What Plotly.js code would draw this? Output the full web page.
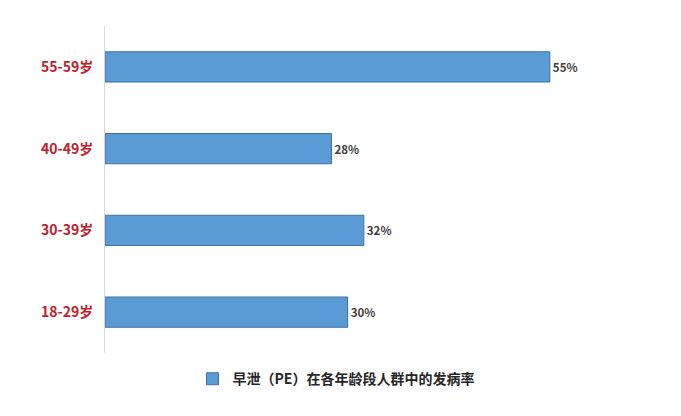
<!DOCTYPE html>
<html><head><meta charset="utf-8">
<script src="https://cdn.plot.ly/plotly-3.0.1.min.js"></script>
<style>html,body{margin:0;padding:0;background:#fff}#c{width:681px;height:416px}</style>
</head><body><div id="c"></div>
<script>
const categories = ["18-29岁", "30-39岁", "40-49岁", "55-59岁"];
const values = [30, 32, 28, 55];
const labels = ["30%", "32%", "28%", "55%"];
const seriesName = "早泄（PE）在各年龄段人群中的发病率";

Plotly.newPlot('c', [{
  type: 'bar', orientation: 'h',
  y: categories, x: values, name: seriesName,
  text: labels, textposition: 'outside', cliponaxis: false,
  textfont: {family: '"Noto Sans CJK SC", "Noto Sans", sans-serif', size: 11.5, color: '#404040', weight: 'bold'},
  marker: {color: '#5B9BD5', line: {color: '#41719C', width: 1}}
}], {
  width: 681, height: 416,
  margin: {l: 105, r: 26, t: 26, b: 63},
  paper_bgcolor: '#fff', plot_bgcolor: '#fff',
  bargap: 0.63,
  showlegend: true,
  legend: {orientation: 'h', x: 0.42, xanchor: 'center', y: -0.08, yanchor: 'middle',
    font: {family: '"Noto Sans CJK SC", sans-serif', size: 14, color: '#262626', weight: 'bold'}},
  xaxis: {range: [0, 68], showgrid: false, zeroline: false, showticklabels: false, showline: false, fixedrange: true},
  yaxis: {type: 'category', showgrid: false, zeroline: false, showline: true, linecolor: '#d9d9d9', linewidth: 1,
    ticks: '', ticklabelstandoff: 8,
    tickfont: {family: '"Noto Sans CJK SC", sans-serif', size: 14, color: '#C0202A', weight: 'bold'}},
  font: {family: '"Noto Sans CJK SC", sans-serif'}
}, {displayModeBar: false, staticPlot: true});
</script></body></html>
